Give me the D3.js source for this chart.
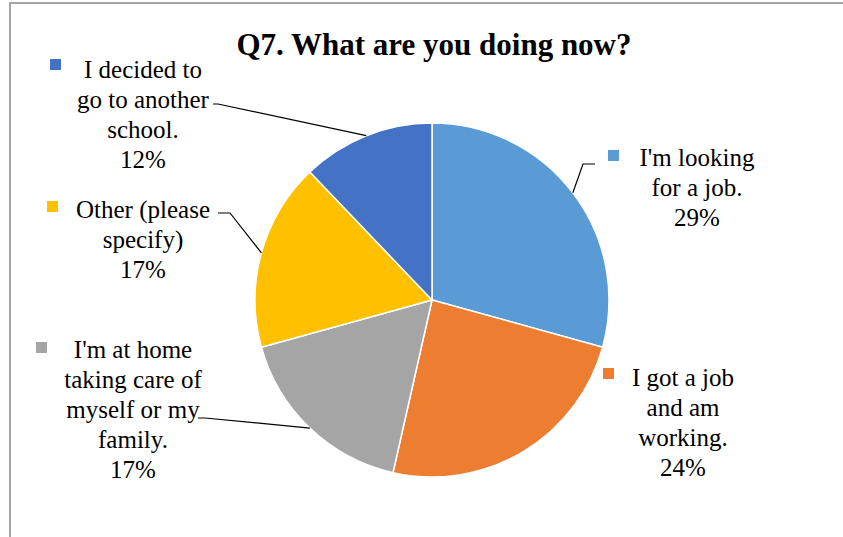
<!DOCTYPE html>
<html>
<head>
<meta charset="utf-8">
<script src="https://cdn.jsdelivr.net/npm/d3@7/dist/d3.min.js"></script>
<style>
  body { margin: 0; font-family: "Liberation Serif", "Times New Roman", Tinos, serif; }
  #chart text { font-family: "Liberation Serif", "Times New Roman", Tinos, serif; }
</style>
</head>
<body>
<svg id="chart" width="843" height="537">
  <rect id="frame" x="10" y="3" width="900" height="600" fill="#fff" stroke="#A6A6A6" stroke-width="2"></rect>
  <text id="title" x="434" y="55" text-anchor="middle" font-size="31" font-weight="bold" fill="#000">Q7. What are you doing now?</text>
</svg>
<script>
// Survey answers, in drawing order (clockwise from 12 o'clock)
const categories = [
  "I'm looking for a job.",
  "I got a job and am working.",
  "I'm at home taking care of myself or my family.",
  "Other (please specify)",
  "I decided to go to another school."
];
const percents = [29, 24, 17, 17, 12];
const colors = ["#5B9BD5", "#ED7D31", "#A5A5A5", "#FFC000", "#4472C4"];
const title = "Q7. What are you doing now?";

// Wrapped label lines for each slice
const labelLines = [
  ["I'm looking", "for a job."],
  ["I got a job", "and am", "working."],
  ["I'm at home", "taking care of", "myself or my", "family."],
  ["Other (please", "specify)"],
  ["I decided to", "go to another", "school."]
];

// Label placement: text centre x, first baseline, colour-key corner, leader elbow
const labelLayout = [
  { cx: 697, y: 166, kx: 608, ky: 150, leader: true, lx: 583, ly: 164, hx: 595 },
  { cx: 683, y: 386, kx: 603, ky: 368, leader: false },
  { cx: 133, y: 358, kx: 36,  ky: 342, leader: true, lx: 205, ly: 418, hx: 198 },
  { cx: 143, y: 218, kx: 47,  ky: 201, leader: true, lx: 230, ly: 213, hx: 218 },
  { cx: 143, y: 78,  kx: 50,  ky: 59,  leader: true, lx: 218, ly: 104, hx: 213 }
];

const cx = 432, cy = 300, R = 177;
const lineH = 30;

const svg = d3.select("#chart");
svg.select("#title").text(title);

const data = categories.map((c, i) => ({ name: c, value: percents[i], color: colors[i], i }));

const pie = d3.pie().sort(null).value(d => d.value);
const arcs = pie(data);
const arc = d3.arc().innerRadius(0).outerRadius(R);
const edgeArc = d3.arc().innerRadius(R).outerRadius(R);

const g = svg.append("g").attr("transform", `translate(${cx},${cy})`);

g.selectAll("path.slice")
  .data(arcs)
  .enter().append("path")
  .attr("class", "slice")
  .attr("d", arc)
  .attr("fill", d => d.data.color)
  .attr("stroke", "#fff")
  .attr("stroke-width", 1.5)
  .attr("stroke-linejoin", "round");

// Leader lines from slice edge to the label
arcs.forEach((a, i) => {
  const L = labelLayout[i];
  if (!L.leader) return;
  const [ex, ey] = edgeArc.centroid(a);
  const pts = [[L.hx, L.ly], [L.lx, L.ly], [cx + ex, cy + ey]];
  svg.append("path")
    .attr("d", d3.line()(pts))
    .attr("fill", "none")
    .attr("stroke", "#000")
    .attr("stroke-width", 1.2);
});

// Data labels: colour key, wrapped category text and the value
arcs.forEach((a, i) => {
  const L = labelLayout[i];
  const lines = labelLines[i].concat([a.data.value + "%"]);
  const grp = svg.append("g");
  grp.append("rect")
    .attr("x", L.kx)
    .attr("y", L.ky)
    .attr("width", 11)
    .attr("height", 11)
    .attr("fill", a.data.color);
  grp.selectAll("text.label")
    .data(lines)
    .enter().append("text")
    .attr("class", "label")
    .attr("x", L.cx)
    .attr("y", (t, k) => L.y + k * lineH)
    .attr("text-anchor", "middle")
    .attr("font-size", 25)
    .attr("fill", "#000")
    .text(t => t);
});
</script>
</body>
</html>
